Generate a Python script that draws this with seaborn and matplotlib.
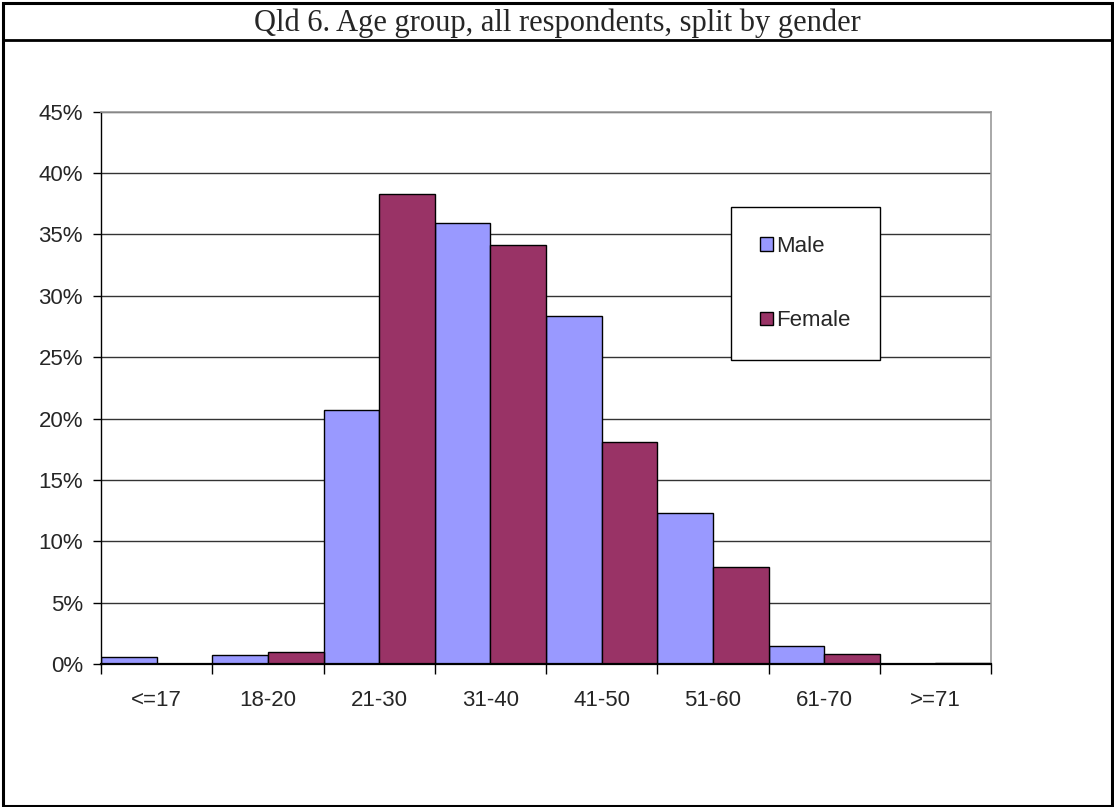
import pandas as pd
import seaborn as sns
import matplotlib.pyplot as plt
from matplotlib.patches import Rectangle
from matplotlib.lines import Line2D

# --- DATI ---
fasce_eta = ['<=17', '18-20', '21-30', '31-40', '41-50', '51-60', '61-70', '>=71']
maschi = [0.55, 0.7, 20.7, 35.95, 28.35, 12.3, 1.45, 0.0]
femmine = [0.0, 0.95, 38.3, 34.1, 18.05, 7.9, 0.8, 0.1]
titolo = 'Qld 6. Age group, all respondents, split by gender'

df = pd.DataFrame({
    'Eta': fasce_eta * 2,
    'Valore': maschi + femmine,
    'Genere': ['Male'] * len(fasce_eta) + ['Female'] * len(fasce_eta),
})

sns.set_style('white')
plt.rcParams['font.family'] = ['Liberation Sans', 'DejaVu Sans']

W, H = 1114, 807
fig = plt.figure(figsize=(W / 100, H / 100), dpi=100)
ax = fig.add_axes([101 / W, 1 - 664 / H, (991 - 101) / W, (664 - 111.7) / H])

sns.barplot(data=df, x='Eta', y='Valore', hue='Genere', order=fasce_eta,
            palette={'Male': '#9999FF', 'Female': '#993366'}, saturation=1,
            width=1.0, edgecolor='black', linewidth=1.0, ax=ax, legend=False)

ax.set_xlim(-0.5, len(fasce_eta) - 0.5)
ax.set_ylim(0, 45)
ax.set_yticks(range(0, 46, 5))
ax.set_yticklabels([f'{v}%' for v in range(0, 46, 5)])
ax.yaxis.grid(True, color='#333333', linewidth=1)
ax.set_axisbelow(True)
ax.set_xlabel('')
ax.set_ylabel('')

# tacche sui bordi delle categorie
ax.set_xticks([i - 0.5 for i in range(len(fasce_eta) + 1)], minor=True)
ax.tick_params(axis='x', which='minor', length=7, width=1, color='black', direction='out', bottom=True)
ax.tick_params(axis='x', which='major', length=0, pad=19, labelsize=16)
ax.tick_params(axis='y', length=6, width=1, color='black', direction='out', left=True, pad=7, labelsize=16)

for lato in ['left', 'bottom']:
    ax.spines[lato].set_color('black')
    ax.spines[lato].set_linewidth(1)
ax.spines['bottom'].set_linewidth(1.6)
for lato in ['top', 'right']:
    ax.spines[lato].set_color('#999999')
    ax.spines[lato].set_linewidth(1.2)

# legenda
maniglie = [Rectangle((0, 0), 1, 1, facecolor='#9999FF', edgecolor='black', linewidth=1),
            Rectangle((0, 0), 1, 1, facecolor='#993366', edgecolor='black', linewidth=1)]
leg = fig.legend(maniglie, ['Male', 'Female'], loc='upper left',
                 bbox_to_anchor=(731 / W, 1 - 207 / H), fontsize=16,
                 frameon=True, fancybox=False, edgecolor='black', framealpha=1,
                 borderpad=1.3, labelspacing=2.4, handlelength=0.6, handleheight=0.55,
                 handletextpad=0.15, borderaxespad=0)
leg.get_frame().set_linewidth(1)

# cornice esterna e riga del titolo
fig.patches.append(Rectangle((3 / W, 1 - 806 / H), (1112 - 3) / W, (806 - 3) / H,
                             transform=fig.transFigure, fill=False, edgecolor='black', linewidth=2.2))
fig.lines.append(Line2D([3 / W, 1112 / W], [1 - 40 / H, 1 - 40 / H],
                        transform=fig.transFigure, color='black', linewidth=2))
fig.text(0.5, 1 - 23 / H, titolo, ha='center', va='center', fontsize=22,
         family=['Liberation Serif', 'DejaVu Serif'])

plt.savefig('out.png', dpi=100)
plt.close(fig)
